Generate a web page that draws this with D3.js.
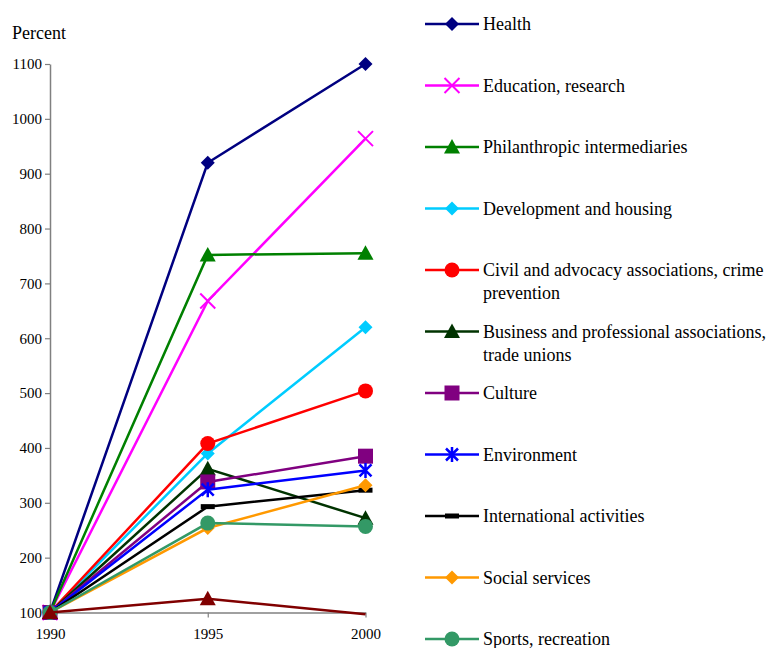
<!DOCTYPE html>
<html>
<head>
<meta charset="utf-8">
<script src="https://cdn.jsdelivr.net/npm/d3@7"></script>
<style>
  html, body { margin: 0; padding: 0; background: #fff; }
  svg { display: block; }
  text { font-family: "Liberation Serif", "Times New Roman", serif; fill: #000; }
</style>
</head>
<body>
<div id="chart"></div>
<script>
// Growth of nonprofit sectors, index 1990 = 100
const years = [1990, 1995, 2000];
const yTicks = [100, 200, 300, 400, 500, 600, 700, 800, 900, 1000, 1100];

const seriesNames = [
  ["Health"],
  ["Education, research"],
  ["Philanthropic intermediaries"],
  ["Development and housing"],
  ["Civil and advocacy associations, crime", "prevention"],
  ["Business and professional associations,", "trade unions"],
  ["Culture"],
  ["Environment"],
  ["International activities"],
  ["Social services"],
  ["Sports, recreation"],
  ["Other"]
];
const healthValues        = [100, 920, 1100];
const educationValues     = [100, 668, 964];
const philanthropicValues = [100, 752, 755];
const developmentValues   = [100, 390, 620];
const civilValues         = [100, 408, 504];
const businessValues      = [100, 362, 272];
const cultureValues       = [100, 338, 385];
const environmentValues   = [100, 324, 359];
const internationalValues = [100, 293, 323];
const socialValues        = [100, 254, 332];
const sportsValues        = [100, 263, 257];
const otherValues         = [100, 125, 97];

const seriesValues = [healthValues, educationValues, philanthropicValues, developmentValues,
  civilValues, businessValues, cultureValues, environmentValues, internationalValues,
  socialValues, sportsValues, otherValues];
const seriesColors = ["#000080", "#FF00FF", "#008000", "#00CCFF", "#FF0000", "#003300",
  "#800080", "#0000FF", "#000000", "#FF9900", "#339966", "#800000"];
const seriesMarkers = ["diamond", "cross", "triangle", "diamond", "circle", "triangle",
  "square", "star", "dash", "diamond", "circle", "triangle"];

const W = 772, H = 648;
const svg = d3.select("#chart").append("svg").attr("width", W).attr("height", H);

const yMin = 100, yMax = 1100;
const x = d3.scaleLinear().domain([1990, 2000]).range([50, 365.5]);
const y = d3.scaleLinear().domain([yMin, yMax]).range([612.5, 64]);

// Axes
const axisColor = "#808080";
const yAxis = svg.append("g").attr("transform", `translate(${x(1990)},0)`)
  .call(d3.axisLeft(y).tickValues(yTicks).tickSize(5).tickSizeOuter(0).tickPadding(3).tickFormat(d3.format("d")));
yAxis.attr("font-family", null);
yAxis.select(".domain").attr("stroke", axisColor).attr("stroke-width", 1.5);
yAxis.selectAll(".tick line").attr("stroke", axisColor).attr("stroke-width", 1.2);
yAxis.selectAll(".tick text").attr("font-size", 15).attr("fill", "#000");

const xAxis = svg.append("g").attr("transform", `translate(0,${y(yMin)})`)
  .call(d3.axisBottom(x).tickValues(years).tickSize(5).tickSizeOuter(0).tickPadding(11).tickFormat(d3.format("d")));
xAxis.attr("font-family", null);
xAxis.select(".domain").attr("stroke", axisColor).attr("stroke-width", 1.5);
xAxis.selectAll(".tick line").attr("stroke", axisColor).attr("stroke-width", 1.2);
xAxis.selectAll(".tick text").attr("font-size", 15).attr("fill", "#000");

svg.append("text").attr("x", 12).attr("y", 39).attr("font-size", 18).text("Percent");

// Marker drawing
function drawMarker(g, type, color) {
  switch (type) {
    case "diamond":
      g.append("path").attr("d", "M0,-7L7,0L0,7L-7,0Z").attr("fill", color);
      break;
    case "triangle":
      g.append("path").attr("d", "M0,-8L8,6.5L-8,6.5Z").attr("fill", color);
      break;
    case "circle":
      g.append("circle").attr("r", 7.5).attr("fill", color);
      break;
    case "square":
      g.append("rect").attr("x", -7.5).attr("y", -7.5).attr("width", 15).attr("height", 15).attr("fill", color);
      break;
    case "cross":
      g.append("path").attr("d", "M-7.5,-7.5L7.5,7.5M-7.5,7.5L7.5,-7.5")
        .attr("stroke", color).attr("stroke-width", 2).attr("fill", "none");
      break;
    case "star":
      g.append("path").attr("d", "M-6,-6L6,6M-6,6L6,-6M0,-7.5L0,7.5")
        .attr("stroke", color).attr("stroke-width", 2.5).attr("fill", "none");
      break;
    case "dash":
      g.append("rect").attr("x", -7).attr("y", -2.5).attr("width", 14).attr("height", 5).attr("fill", color);
      break;
  }
}

const line = d3.line().x((d, i) => x(years[i])).y(d => y(d));
const plot = svg.append("g");
seriesValues.forEach((vals, si) => {
  const g = plot.append("g");
  g.append("path").datum(vals).attr("d", line)
    .attr("fill", "none").attr("stroke", seriesColors[si]).attr("stroke-width", 2.5);
  vals.forEach((v, i) => {
    // markers for values below the axis minimum fall outside the plot area
    if (v < yMin) return;
    drawMarker(g.append("g").attr("transform", `translate(${x(years[i])},${y(v)})`),
      seriesMarkers[si], seriesColors[si]);
  });
});

// Legend
const legend = svg.append("g");
const legendTop = 24, legendStep = 61.5;
seriesNames.forEach((lines, si) => {
  const cy = legendTop + si * legendStep;
  const g = legend.append("g").attr("transform", `translate(0,${cy})`);
  g.append("line").attr("x1", 425).attr("x2", 479).attr("y1", 0).attr("y2", 0)
    .attr("stroke", seriesColors[si]).attr("stroke-width", 2.5);
  drawMarker(g.append("g").attr("transform", "translate(452,0)"), seriesMarkers[si], seriesColors[si]);
  lines.forEach((t, li) => {
    g.append("text").attr("x", 483).attr("y", li * 23 + 6).attr("font-size", 18).text(t);
  });
});
</script>
</body>
</html>
